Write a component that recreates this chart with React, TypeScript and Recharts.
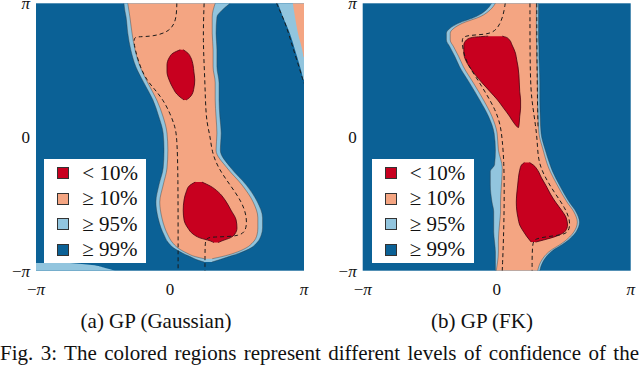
import React from "react";
import { ComposedChart, Area, Line, XAxis, YAxis, CartesianGrid, Legend } from "recharts";

const PI = Math.PI;
const RED = "#c8001f";
const ORANGE = "#f4a582";
const LIGHT = "#92c5de";
const DARK = "#0b6196";
const SERIF = "'Liberation Serif', 'DejaVu Serif', serif";

// rows are [y, xLeft, xRight] in radians, ordered bottom -> top
const gaussOrange = [
  [-2.86, 0.8, 0.99], [-2.81, 0.59, 1.22], [-2.73, 0.4, 1.5], [-2.61, 0.19, 1.78],
  [-2.47, 0.05, 1.95], [-2.3, -0.05, 2.04], [-2.14, -0.12, 2.06], [-1.9, -0.19, 2.06],
  [-1.53, -0.24, 1.95], [-1.13, -0.16, 1.69], [-0.73, -0.07, 1.34], [-0.31, -0.05, 1.08],
  [0.09, -0.07, 1.1], [0.47, -0.16, 1.08], [0.87, -0.31, 1.06], [1.27, -0.52, 1.06],
  [1.65, -0.7, 1.01], [2.05, -0.82, 1.01], [2.44, -0.89, 0.99], [2.82, -0.94, 0.99],
  [PI, -0.99, 1.06],
];
const gaussLight = [
  [-2.94, 0.8, 0.98], [-2.88, 0.62, 1.17], [-2.81, 0.47, 1.38], [-2.73, 0.3, 1.62],
  [-2.61, 0.09, 1.89], [-2.47, -0.05, 2.05], [-2.3, -0.14, 2.14], [-2.14, -0.21, 2.17],
  [-1.9, -0.28, 2.17], [-1.53, -0.33, 2.05], [-1.13, -0.26, 1.79], [-0.73, -0.16, 1.43],
  [-0.31, -0.14, 1.18], [0.09, -0.16, 1.2], [0.47, -0.26, 1.17], [0.87, -0.4, 1.15],
  [1.27, -0.61, 1.15], [1.65, -0.8, 1.1], [2.05, -0.92, 1.1], [2.44, -0.99, 1.08],
  [2.82, -1.03, 1.1], [2.98, -1.06, 1.22], [PI, -1.08, 1.41],
];
const gaussCornerLight = [
  [1.34, 3.13, PI], [1.65, 3.05, PI], [2.05, 2.93, PI], [2.44, 2.81, PI], [2.82, 2.65, PI], [PI, 2.53, PI],
];
const gaussCornerOrange = [
  [1.88, 3.13, PI], [2.05, 3.1, PI], [2.44, 3.0, PI], [2.82, 2.93, PI], [PI, 2.88, PI],
];
const gaussBottomLight = [
  [-PI, -PI, -1.29], [-3.08, -PI, -1.52], [-3.01, -PI, -1.83], [-2.96, -PI, -2.35],
];
const gaussRedTop = [
  [0.87, 0.33, 0.38], [0.92, 0.26, 0.45], [1.01, 0.16, 0.52], [1.15, 0.07, 0.56],
  [1.34, -0.02, 0.58], [1.53, -0.07, 0.56], [1.69, -0.07, 0.54], [1.86, -0.02, 0.49],
  [1.97, 0.07, 0.42], [2.05, 0.24, 0.31],
];
const gaussRedBottom = [
  [-2.48, 1.03, 1.13], [-2.44, 0.94, 1.22], [-2.37, 0.7, 1.41], [-2.28, 0.54, 1.52],
  [-2.14, 0.42, 1.57], [-1.95, 0.33, 1.55], [-1.72, 0.31, 1.43], [-1.48, 0.33, 1.29],
  [-1.29, 0.38, 1.13], [-1.15, 0.45, 0.94], [-1.06, 0.59, 0.75],
];
// dashed contours, [x, y] in drawing order
const gaussDashLeft = [
  [0.16, PI], [0.15, 2.75], [0.0, 2.48], [-0.4, 2.36], [-0.78, 2.36], [-0.86, 2.32],
  [-0.82, 2.05], [-0.7, 1.65], [-0.55, 1.34], [-0.35, 1.11], [-0.16, 0.87], [0.0, 0.56],
  [0.12, 0.24], [0.16, 0.0], [0.19, -0.78], [0.19, -PI],
];
const gaussDashRight = [
  [0.8, PI], [0.77, 2.28], [0.82, 1.34], [0.84, 0.4], [0.94, 0.05], [0.98, -0.35],
  [1.13, -0.73], [1.41, -1.13], [1.69, -1.53], [1.81, -1.9], [1.78, -2.23], [1.6, -2.32],
  [1.34, -2.34], [1.06, -2.35], [0.84, -2.36], [0.82, -2.54], [0.82, -PI],
];
const gaussDashCorner = [
  [2.5, PI], [2.56, 3.0], [2.72, 2.64], [2.88, 2.1], [3.02, 1.66], [PI, 1.26],
];

const fkOrange = [
  [-PI, -0.01, 0.96], [-2.94, 0.02, 1.03], [-2.7, 0.04, 1.22], [-2.47, 0.04, 1.57],
  [-2.23, 0.05, 1.81], [-2.0, 0.07, 1.89], [-1.76, 0.09, 1.81], [-1.53, 0.09, 1.65],
  [-1.13, 0.11, 1.42], [-0.73, 0.13, 1.22], [-0.31, 0.04, 1.09], [0.09, 0.01, 0.99],
  [0.48, -0.11, 0.97], [0.87, -0.31, 0.96], [1.26, -0.54, 0.96], [1.65, -0.78, 0.95],
  [1.89, -0.89, 0.94], [2.12, -1.01, 0.94], [2.28, -1.09, 0.93], [2.44, -1.09, 0.93],
  [2.55, -1.01, 0.93], [2.67, -0.81, 0.93], [2.83, -0.38, 0.93], [2.99, -0.15, 0.93],
  [PI, -0.03, 0.93],
];
const fkLight = [
  [-PI, -0.03, 1.01], [-2.94, -0.03, 1.08], [-2.7, -0.03, 1.27], [-2.47, -0.05, 1.62],
  [-2.23, -0.07, 1.86], [-2.0, -0.07, 1.94], [-1.76, -0.07, 1.86], [-1.53, -0.11, 1.7],
  [-1.13, -0.15, 1.47], [-0.81, -0.15, 1.31], [-0.65, -0.05, 1.25], [-0.31, -0.03, 1.14],
  [0.09, -0.06, 1.04], [0.48, -0.19, 1.02], [0.87, -0.4, 1.01], [1.26, -0.63, 1.01],
  [1.65, -0.87, 1.0], [1.89, -0.98, 0.99], [2.12, -1.1, 0.99], [2.28, -1.18, 0.98],
  [2.44, -1.18, 0.98], [2.55, -1.1, 0.98], [2.67, -0.9, 0.98], [2.83, -0.48, 0.98],
  [2.99, -0.24, 0.98], [PI, -0.12, 0.98],
];
const fkRedTop = [
  [0.22, 0.5, 0.51], [0.26, 0.46, 0.52], [0.35, 0.39, 0.53], [0.49, 0.3, 0.54],
  [0.68, 0.16, 0.56], [0.87, 0.02, 0.56], [1.06, -0.15, 0.54], [1.27, -0.34, 0.53],
  [1.46, -0.5, 0.52], [1.65, -0.64, 0.5], [1.81, -0.73, 0.47], [1.97, -0.77, 0.44],
  [2.16, -0.77, 0.36], [2.28, -0.71, 0.3], [2.34, -0.57, 0.23], [2.37, -0.2, 0.13],
];
const fkRedBottom = [
  [-2.47, 0.81, 0.91], [-2.42, 0.77, 1.1], [-2.33, 0.7, 1.4], [-2.21, 0.62, 1.61],
  [-2.07, 0.54, 1.66], [-1.9, 0.5, 1.63], [-1.72, 0.47, 1.52], [-1.53, 0.46, 1.38],
  [-1.34, 0.47, 1.26], [-1.15, 0.49, 1.16], [-0.96, 0.51, 1.05], [-0.78, 0.54, 0.96],
  [-0.66, 0.58, 0.86], [-0.6, 0.65, 0.77],
];
const fkDashLeft = [
  [0.2, PI], [0.16, 2.87], [0.04, 2.56], [-0.15, 2.42], [-0.5, 2.4], [-0.78, 2.37],
  [-0.82, 2.28], [-0.78, 1.97], [-0.67, 1.69], [-0.5, 1.43], [-0.27, 1.06], [-0.03, 0.64],
  [0.09, 0.28], [0.13, -0.07], [0.17, -0.54], [0.18, -1.48], [0.16, -2.42], [0.13, -PI],
];
const fkDashRight = [
  [0.78, PI], [0.78, 1.81], [0.8, 1.11], [0.84, 0.75], [0.91, 0.28], [0.95, -0.07],
  [0.97, -0.54], [1.1, -0.89], [1.34, -1.29], [1.61, -1.67], [1.73, -1.99], [1.69, -2.23],
  [1.54, -2.3], [1.18, -2.34], [0.91, -2.39], [0.83, -2.47], [0.83, -PI],
];
const fkDashEdge = [
  [0.94, PI], [0.94, 2.2], [0.95, 1.3], [0.96, 0.6], [0.97, 0.2],
];

const legendItems = [
  { label: "< 10%", color: RED },
  { label: "≥ 10%", color: ORANGE },
  { label: "≥ 95%", color: LIGHT },
  { label: "≥ 99%", color: DARK },
];
const axisTicks = [-PI, 0, PI];

const toRange = (rows: number[][]) => rows.map(([y, lo, hi]) => ({ y, r: [lo, hi] }));
const toPath = (pts: number[][]) => pts.map(([x, y]) => ({ x, y }));
const piText = (v: number) => (Math.abs(v) < 1e-6 ? "0" : v < 0 ? "−π" : "π");

const PiLabel = ({ v }: { v: number }) =>
  Math.abs(v) < 1e-6 ? <>0</> : <>{v < 0 ? "−" : ""}<tspan fontStyle="italic">π</tspan></>;

const XTick = ({ x, y, payload }: any) => (
  <text x={x} y={y} dy="0.71em" textAnchor="middle" fontFamily={SERIF} fontSize={17} fill="#111">
    <PiLabel v={payload.value} />
  </text>
);
const YTick = ({ x, y, payload }: any) => (
  <text x={x} y={y} dy="0.36em" textAnchor="end" fontFamily={SERIF} fontSize={17} fill="#111">
    <PiLabel v={payload.value} />
  </text>
);

const LegendBox = () => (
  <div style={{ width: 102, height: 104, background: "#fff", boxSizing: "border-box", paddingTop: 1 }}>
    {legendItems.map((it) => (
      <div key={it.label} style={{ height: 25.5, display: "flex", alignItems: "center" }}>
        <div style={{ width: 12, height: 12, marginLeft: 13, background: it.color, border: "0.7px solid #333", boxSizing: "border-box" }} />
        <span style={{ marginLeft: 13, fontFamily: SERIF, fontSize: 21, lineHeight: "21px", color: "#111" }}>{it.label}</span>
      </div>
    ))}
  </div>
);

type Fill = { rows: number[][]; fill: string; stroke?: boolean };

const Y_AXIS_W = 30;
const X_AXIS_H = 20;

function Panel({ marginLeft, legendLeft, fills, reds, dashes }: {
  marginLeft: number; legendLeft: number; fills: Fill[]; reds: number[][][]; dashes: number[][][];
}) {
  return (
    <ComposedChart layout="vertical" width={320} height={300}
      margin={{ top: 3.3, right: 320 - marginLeft - 268, bottom: 29.3 - X_AXIS_H, left: marginLeft - Y_AXIS_W }}>
      <CartesianGrid horizontal={false} vertical={false} fill={DARK} fillOpacity={1} stroke="none" />
      <XAxis type="number" domain={[-PI, PI]} ticks={axisTicks} interval={0} tickFormatter={piText}
        allowDataOverflow height={X_AXIS_H}
        axisLine={false} tickLine={false} tickSize={6} tickMargin={6} tick={<XTick />} />
      <YAxis type="number" dataKey="y" domain={[-PI, PI]} ticks={axisTicks} interval={0} tickFormatter={piText}
        allowDataOverflow reversed width={Y_AXIS_W}
        axisLine={false} tickLine={false} tickSize={4} tickMargin={2} tick={<YTick />} />
      {fills.map((f, i) => (
        <Area key={"f" + i} data={toRange(f.rows)} dataKey="r" type="monotone" fill={f.fill} fillOpacity={1}
          stroke={f.stroke ? "#333" : "none"} strokeOpacity={0.65} strokeWidth={0.6}
          dot={false} activeDot={false} isAnimationActive={false} legendType="none" />
      ))}
      {reds.map((rows, i) => (
        <Area key={"r" + i} data={toRange(rows)} dataKey="r" type="monotone" fill={RED} fillOpacity={1}
          stroke="#4a0010" strokeWidth={0.8} dot={false} activeDot={false} isAnimationActive={false} legendType="none" />
      ))}
      {dashes.map((pts, i) => (
        <Line key={"d" + i} data={toPath(pts)} dataKey="x" type="basis" stroke="#1a1a1a" strokeWidth={1}
          strokeDasharray="4 3" dot={false} activeDot={false} isAnimationActive={false} legendType="none" />
      ))}
      <Legend layout="vertical" align="center" verticalAlign="middle"
        wrapperStyle={{ left: legendLeft, top: 159.3, width: 102, height: 104 }} content={() => <LegendBox />} />
    </ComposedChart>
  );
}

export default function App() {
  return (
    <div style={{ position: "absolute", left: 0, top: 0, width: 640, height: 365, overflow: "hidden", background: "#fff" }}>
      <div style={{ position: "absolute", left: 0, top: 0 }}>
        <Panel marginLeft={36} legendLeft={44.3}
          fills={[
            { rows: gaussBottomLight, fill: LIGHT },
            { rows: gaussCornerLight, fill: LIGHT },
            { rows: gaussCornerOrange, fill: ORANGE },
            { rows: gaussLight, fill: LIGHT, stroke: true },
            { rows: gaussOrange, fill: ORANGE, stroke: true },
          ]}
          reds={[gaussRedTop, gaussRedBottom]}
          dashes={[gaussDashLeft, gaussDashRight, gaussDashCorner]} />
      </div>
      <div style={{ position: "absolute", left: 320, top: 0 }}>
        <Panel marginLeft={42.7} legendLeft={51.7}
          fills={[
            { rows: fkLight, fill: LIGHT, stroke: true },
            { rows: fkOrange, fill: ORANGE, stroke: true },
          ]}
          reds={[fkRedTop, fkRedBottom]}
          dashes={[fkDashLeft, fkDashRight, fkDashEdge]} />
      </div>
      <div style={{ position: "absolute", left: 56, width: 200, top: 310.7, textAlign: "center", fontFamily: SERIF, fontSize: 21, lineHeight: "21px", color: "#111" }}>
        (a) GP (Gaussian)
      </div>
      <div style={{ position: "absolute", left: 382, width: 200, top: 310.7, textAlign: "center", fontFamily: SERIF, fontSize: 21, lineHeight: "21px", color: "#111" }}>
        (b) GP (FK)
      </div>
      <div style={{ position: "absolute", left: 0, width: 639, top: 343, textAlign: "justify", textAlignLast: "justify", fontFamily: SERIF, fontSize: 21, lineHeight: "21px", color: "#111", whiteSpace: "nowrap" }}>
        Fig. 3: The colored regions represent different levels of confidence of the
      </div>
    </div>
  );
}
